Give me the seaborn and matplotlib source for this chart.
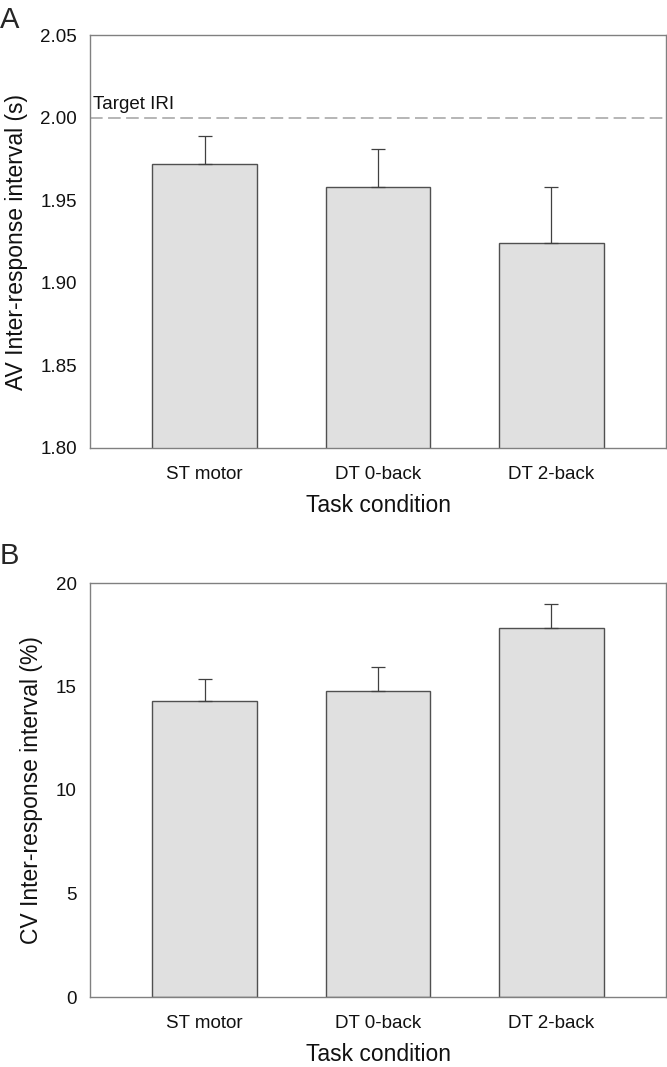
import numpy as np
import pandas as pd
import matplotlib
matplotlib.use("Agg")
import matplotlib.pyplot as plt
import seaborn as sns

conditions = ["ST motor", "DT 0-back", "DT 2-back"]
av_iri = [1.972, 1.958, 1.924]
av_err = [0.017, 0.023, 0.034]
cv_iri = [14.31, 14.8, 17.81]
cv_err = [1.05, 1.13, 1.18]
target_iri = 2.00

sns.set_style("white")
plt.rcParams["font.family"] = ["Liberation Sans", "DejaVu Sans"]

fig = plt.figure(figsize=(6.67, 10.67), dpi=100)
ax_a = fig.add_axes([90 / 667, (1067 - 448) / 1067, 576 / 667, 413 / 1067])
ax_b = fig.add_axes([90 / 667, (1067 - 997) / 1067, 576 / 667, 414 / 1067])

bar_fill = "#e0e0e0"
spine_col = "#808080"


def draw_panel(ax, values, errs, ylim, yticks, ytick_labels, ylabel):
    df = pd.DataFrame({"cond": conditions, "val": values})
    sns.barplot(data=df, x="cond", y="val", ax=ax, color=bar_fill,
                edgecolor="#505050", linewidth=1.0, width=0.6,
                saturation=1, errorbar=None)
    x = np.arange(len(conditions))
    ax.errorbar(x, values, yerr=[np.zeros(len(values)), errs], fmt="none",
                ecolor="#404040", elinewidth=0.9, capsize=5, capthick=0.9)
    ax.set_ylim(*ylim)
    ax.set_xlim(-0.66, 2.66)
    ax.set_yticks(yticks)
    ax.set_yticklabels(ytick_labels)
    for s in ax.spines.values():
        s.set_visible(True)
        s.set_color(spine_col)
        s.set_linewidth(1.0)
    ax.tick_params(axis="both", direction="out", length=6, width=1.0,
                   color=spine_col, labelsize=13.5, labelcolor="#111111")
    ax.tick_params(axis="x", pad=7)
    ax.set_xlabel("Task condition", fontsize=16.5, color="#111111", labelpad=8)
    ax.set_ylabel(ylabel, fontsize=16.5, color="#111111", labelpad=9)


draw_panel(ax_a, av_iri, av_err, (1.80, 2.05),
           [1.80, 1.85, 1.90, 1.95, 2.00, 2.05],
           ["1.80", "1.85", "1.90", "1.95", "2.00", "2.05"],
           "AV Inter-response interval (s)")
ax_a.axhline(target_iri, color="#b0b0b0", linestyle=(0, (7, 3)),
             linewidth=1.3, zorder=0)
ax_a.text(-0.645, target_iri + 0.003, "Target IRI", fontsize=13.5,
          color="#111111", va="bottom", ha="left")

draw_panel(ax_b, cv_iri, cv_err, (0, 20), [0, 5, 10, 15, 20],
           ["0", "5", "10", "15", "20"], "CV Inter-response interval (%)")

fig.text(0.0, 1 - 20 / 1067, "A", fontsize=21, va="center", ha="left")
fig.text(0.0, 1 - 556 / 1067, "B", fontsize=21, va="center", ha="left")

fig.savefig("out.png", dpi=100)
